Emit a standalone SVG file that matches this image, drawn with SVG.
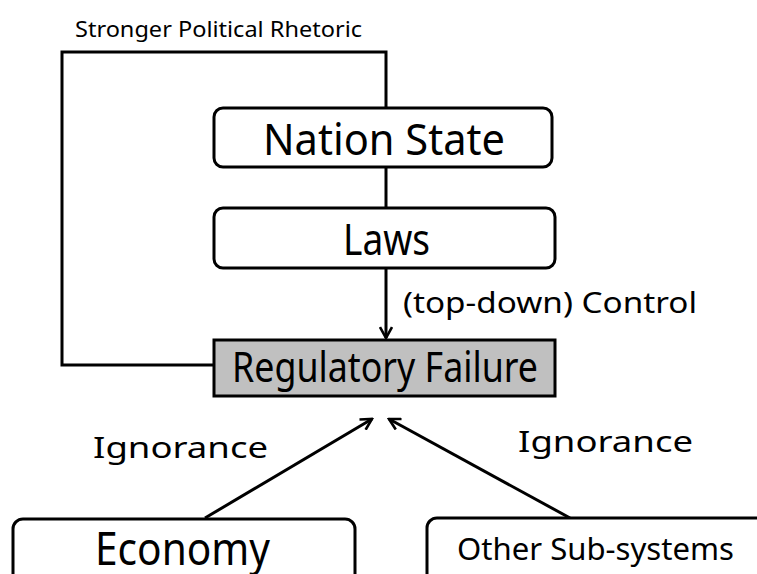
<svg xmlns="http://www.w3.org/2000/svg" width="757" height="574" viewBox="0 0 757 574">
<defs>
<style>
.box{fill:#fff;stroke:#000;stroke-width:3}
.grey{fill:#c0c0c0;stroke:#000;stroke-width:3}
.ln{fill:none;stroke:#000;stroke-width:3}
text{font-family:"Noto Sans","Open Sans","DejaVu Sans",sans-serif;fill:#000}
</style>
<marker id="ah" viewBox="0 0 14 14" refX="12" refY="7" markerWidth="14" markerHeight="14" markerUnits="userSpaceOnUse" orient="auto">
<path d="M1,1 L12,7 L1,13" fill="none" stroke="#000" stroke-width="2.6"/>
</marker>
</defs>
<g id="connectors">
<path class="ln" d="M215,365 H62 V52 H386 V108"/>
<line class="ln" x1="386" y1="167" x2="386" y2="208"/>
<line class="ln" x1="386" y1="268" x2="386" y2="338" marker-end="url(#ah)"/>
<line class="ln" x1="205" y1="518" x2="372" y2="419" marker-end="url(#ah)"/>
<line class="ln" x1="570" y1="518" x2="389" y2="419" marker-end="url(#ah)"/>
<text x="75" y="37" font-size="21" textLength="287" lengthAdjust="spacingAndGlyphs">Stronger Political Rhetoric</text>
<text x="403" y="313" font-size="29" textLength="294" lengthAdjust="spacingAndGlyphs">(top-down) Control</text>
<text x="93" y="458" font-size="29" textLength="175" lengthAdjust="spacingAndGlyphs">Ignorance</text>
<text x="518" y="452" font-size="29" textLength="175" lengthAdjust="spacingAndGlyphs">Ignorance</text>
</g>
<g id="nation-state">
<rect class="box" x="214" y="108" width="338" height="59" rx="9"/>
<text x="263" y="155" font-size="44" textLength="242" lengthAdjust="spacingAndGlyphs">Nation State</text>
</g>
<g id="laws">
<rect class="box" x="214" y="208" width="341" height="60" rx="9"/>
<text x="343" y="255" font-size="44" textLength="87" lengthAdjust="spacingAndGlyphs">Laws</text>
</g>
<g id="regulatory-failure">
<rect class="grey" x="214" y="340" width="341" height="56"/>
<text x="232" y="382" font-size="41" textLength="306" lengthAdjust="spacingAndGlyphs">Regulatory Failure</text>
</g>
<g id="economy">
<rect class="box" x="13" y="519" width="342" height="80" rx="10"/>
<text x="95" y="565" font-size="45" textLength="175" lengthAdjust="spacingAndGlyphs">Economy</text>
</g>
<g id="other-sub-systems">
<rect class="box" x="427" y="518" width="345" height="80" rx="10"/>
<text x="457" y="560" font-size="31" textLength="277" lengthAdjust="spacingAndGlyphs">Other Sub-systems</text>
</g>
</svg>
